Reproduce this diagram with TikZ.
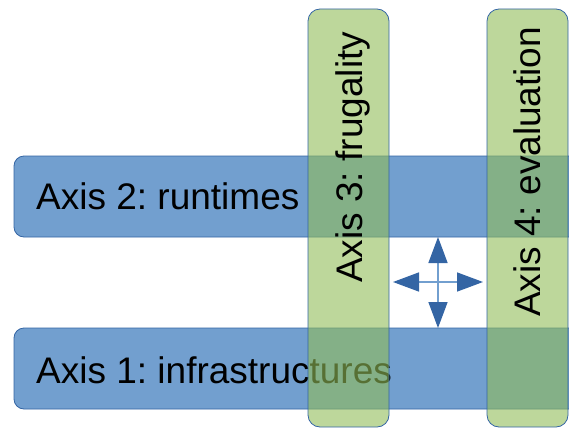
\documentclass[tikz,border=0pt]{standalone}
\usepackage{fontspec}
\setmainfont{Liberation Sans}
\usetikzlibrary{arrows.meta}
\definecolor{barblue}{RGB}{114,159,207}
\definecolor{lineblue}{RGB}{52,101,164}
\definecolor{bargreen}{RGB}{145,188,88}
\frenchspacing

\begin{document}
\begin{tikzpicture}[x=1pt, y=-1pt,
        hbar/.style={draw=lineblue, fill=barblue, line width=0.8pt, rounded corners=10pt},
        vbar/.style={draw=lineblue, fill=bargreen, fill opacity=0.6, line width=0.8pt, rounded corners=12pt},
        axistext/.style={inner sep=0pt, anchor=base west, font=\fontsize{37}{40}\selectfont},
        cross/.style={draw=barblue, line width=1.5pt, -{Triangle[length=26pt, width=19pt, color=lineblue]}}]
        \useasboundingbox (0, 0) rectangle (569, 428);

        \draw[hbar] (14, 156) rectangle (590, 237);
        \draw[hbar] (14, 328) rectangle (590, 409);

        \node[axistext] (axistwo) at (36, 209) {Axis 2: runtimes};
        \node[axistext] (axisone) at (36, 383) {Axis 1: infrastructures};

        \draw[vbar] (308, 9) rectangle (389, 427);
        \draw[vbar] (487, 9) rectangle (568, 427);

        \node[axistext, rotate=90] (axisthree) at (362, 283) {Axis 3: frugality};
        \node[axistext, rotate=90] (axisfour) at (540, 317) {Axis 4: evaluation};

        \coordinate (mid) at (438, 282);
        \coordinate (up) at (438, 237);
        \coordinate (down) at (438, 328);
        \coordinate (left) at (393, 282);
        \coordinate (right) at (483, 282);

        \draw[cross] (mid) -- (up);
        \draw[cross] (mid) -- (down);
        \draw[cross] (mid) -- (left);
        \draw[cross] (mid) -- (right);

    \end{tikzpicture}
\end{document}
